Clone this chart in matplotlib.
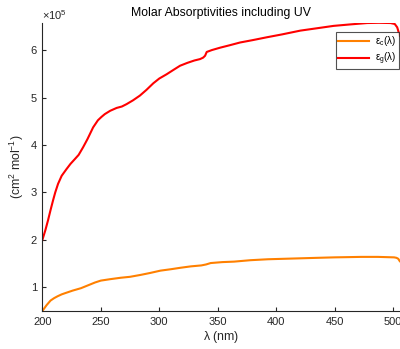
import matplotlib
matplotlib.use("Agg")
import matplotlib.pyplot as plt
import numpy as np

plt.rcParams['font.family'] = ['Liberation Sans', 'DejaVu Sans']
plt.rcParams['mathtext.fontset'] = 'custom'
plt.rcParams['mathtext.rm'] = 'Liberation Sans'
plt.rcParams['mathtext.it'] = 'Liberation Sans'

# wavelength (nm) and molar absorptivities (units of 1e5 cm^2 mol^-1)
lam_g = [200, 202.5, 204.8, 207, 209.1, 211, 213.4, 216.5, 220.6, 224, 227.7,
         231, 234.8, 238.5, 243.4, 247.5, 250.5, 253.4, 258, 263.5, 268,
         272, 277.5, 283.4, 289, 294.9, 300, 306.3, 312, 317.8, 324, 330,
         334.9, 337.5, 339.2, 340.6, 345, 352, 360, 369.2, 380, 392.1, 405,
         420.7, 435, 449.2, 463, 477.8, 488, 497.9, 501.5, 503.6, 505.8]
eps_g = [2.0, 2.2, 2.41, 2.63, 2.83, 3.0, 3.18, 3.35, 3.49, 3.6, 3.7,
         3.79, 3.95, 4.12, 4.37, 4.52, 4.59, 4.65, 4.72, 4.78, 4.81,
         4.86, 4.94, 5.04, 5.16, 5.3, 5.4, 5.49, 5.58, 5.67, 5.73, 5.78,
         5.81, 5.84, 5.88, 5.96, 6.0, 6.05, 6.1, 6.16, 6.21, 6.27, 6.33,
         6.41, 6.46, 6.51, 6.54, 6.57, 6.575, 6.57, 6.55, 6.48, 6.30]

lam_c = [200, 203.5, 207, 210, 213, 216.5, 220, 226, 233, 237, 240, 245,
         250, 258, 267, 275, 284, 292, 301, 310, 318, 327, 336, 340, 344,
         354, 364, 378, 393, 407, 421, 435, 450, 462, 473, 487, 501, 503,
         504.5, 505.8]
eps_c = [0.5, 0.62, 0.72, 0.77, 0.81, 0.85, 0.88, 0.93, 0.98, 1.02, 1.05,
         1.1, 1.14, 1.17, 1.2, 1.22, 1.26, 1.3, 1.35, 1.38, 1.41, 1.44,
         1.46, 1.48, 1.51, 1.53, 1.54, 1.57, 1.59, 1.6, 1.61, 1.62, 1.63,
         1.635, 1.64, 1.64, 1.63, 1.62, 1.6, 1.55]

x_ticks = [200, 250, 300, 350, 400, 450, 500]
y_ticks = [1, 2, 3, 4, 5, 6]

fig = plt.figure(figsize=(4.0, 3.49), dpi=100)
ax = fig.add_axes([0.106, 0.109, 0.894, 0.825])

ax.plot(lam_c, np.array(eps_c) * 1e5, color='#FF8000', linewidth=1.5,
        label=r'$\varepsilon_c(\lambda)$')
ax.plot(lam_g, np.array(eps_g) * 1e5, color='#FF0000', linewidth=1.5,
        label=r'$\varepsilon_g(\lambda)$')

ax.set_xlim(200, 506)
ax.set_ylim(0.5e5, 6.57e5)
ax.set_xticks(x_ticks)
ax.set_yticks(np.array(y_ticks) * 1e5)
ax.set_yticklabels([str(v) for v in y_ticks])

for side in ['top', 'right']:
    ax.spines[side].set_visible(False)
for side in ['left', 'bottom']:
    ax.spines[side].set_color('#262626')
    ax.spines[side].set_linewidth(0.8)
ax.tick_params(direction='in', length=3, width=0.8, colors='#262626',
               labelsize=8, pad=4)

ax.text(0, 1.005, r'$\times10^5$', transform=ax.transAxes, fontsize=8,
        color='#262626', ha='left', va='bottom')

ax.set_title('Molar Absorptivities including UV', fontsize=8.8, pad=5)
ax.set_xlabel(r'$\lambda$ (nm)', fontsize=8.8, color='#262626', labelpad=2)
ax.set_ylabel(r'(cm$^2$ mol$^{-1}$)', fontsize=8.8, color='#262626', labelpad=3)

leg = ax.legend(loc='upper right', bbox_to_anchor=(0.996, 0.969), fontsize=7,
                frameon=True, fancybox=False, handlelength=3.2,
                borderpad=0.25, labelspacing=0.2, handletextpad=0.6,
                borderaxespad=0)
leg.get_frame().set_edgecolor('#262626')
leg.get_frame().set_linewidth(0.8)

fig.savefig('out.png', dpi=100)
